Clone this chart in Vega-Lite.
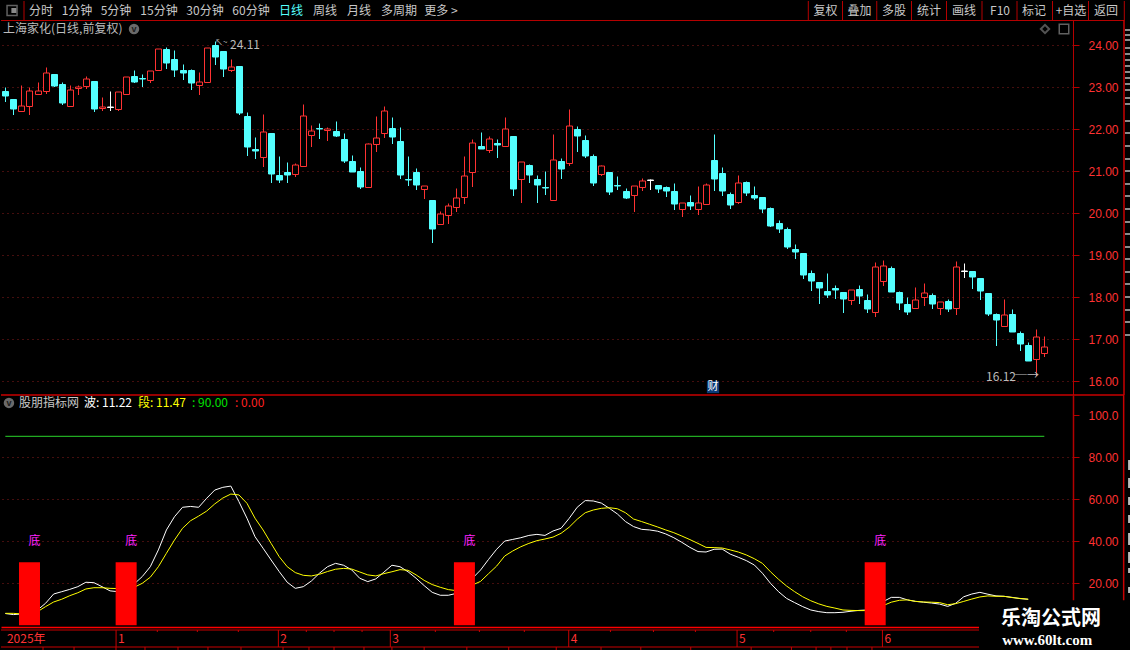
{
  "$schema": "https://vega.github.io/schema/vega-lite/v6.json",
  "background": "#000000",
  "padding": 0,
  "spacing": 0,
  "bounds": "flush",
  "resolve": {"scale": {"color": "independent", "fill": "independent", "stroke": "independent"}},
  "config": {
    "view": {"stroke": null},
    "text": {"font": "Noto Sans CJK SC", "fontSize": 12},
    "axis": {"title": null, "grid": false, "labels": false, "ticks": false}
  },
  "datasets": {
    "candles": [
      {"i":0,"o":22.91,"h":23.0,"l":22.66,"c":22.78},{"i":1,"o":22.72,"h":22.72,"l":22.34,"c":22.49},{"i":2,"o":22.43,"h":23.06,"l":22.43,"c":22.55},{"i":3,"o":22.55,"h":23.0,"l":22.33,"c":22.9},{"i":4,"o":22.85,"h":23.12,"l":22.81,"c":22.9},
      {"i":5,"o":22.9,"h":23.48,"l":22.85,"c":23.33},{"i":6,"o":23.32,"h":23.32,"l":23.01,"c":23.04},{"i":7,"o":23.08,"h":23.13,"l":22.58,"c":22.63},{"i":8,"o":22.55,"h":23.06,"l":22.55,"c":22.93},{"i":9,"o":22.98,"h":23.05,"l":22.82,"c":23.01},
      {"i":10,"o":23.02,"h":23.27,"l":22.96,"c":23.19},{"i":11,"o":23.15,"h":23.15,"l":22.42,"c":22.48},{"i":12,"o":22.5,"h":22.76,"l":22.44,"c":22.52},{"i":13,"o":22.52,"h":22.91,"l":22.44,"c":22.52},{"i":14,"o":22.49,"h":22.88,"l":22.44,"c":22.88},
      {"i":15,"o":22.83,"h":23.24,"l":22.83,"c":23.24},{"i":16,"o":23.27,"h":23.41,"l":23.09,"c":23.13},{"i":17,"o":23.21,"h":23.32,"l":23.01,"c":23.19},{"i":18,"o":23.18,"h":23.38,"l":23.09,"c":23.38},{"i":19,"o":23.4,"h":23.9,"l":23.4,"c":23.9},
      {"i":20,"o":23.9,"h":23.95,"l":23.44,"c":23.59},{"i":21,"o":23.67,"h":23.89,"l":23.25,"c":23.42},{"i":22,"o":23.42,"h":23.56,"l":23.18,"c":23.33},{"i":23,"o":23.41,"h":23.44,"l":22.94,"c":23.11},{"i":24,"o":23.06,"h":23.37,"l":22.82,"c":23.12},
      {"i":25,"o":23.13,"h":23.93,"l":23.1,"c":23.93},{"i":26,"o":24.01,"h":24.11,"l":23.53,"c":23.72},{"i":27,"o":23.87,"h":23.87,"l":23.25,"c":23.44},{"i":28,"o":23.42,"h":23.67,"l":23.37,"c":23.48},{"i":29,"o":23.51,"h":23.51,"l":22.33,"c":22.39},
      {"i":30,"o":22.32,"h":22.4,"l":21.37,"c":21.58},{"i":31,"o":21.53,"h":21.82,"l":21.29,"c":21.49},{"i":32,"o":21.33,"h":22.37,"l":21.1,"c":21.93},{"i":33,"o":21.91,"h":21.91,"l":20.72,"c":20.94},{"i":34,"o":20.91,"h":21.37,"l":20.72,"c":20.79},
      {"i":35,"o":20.98,"h":21.21,"l":20.72,"c":20.91},{"i":36,"o":20.94,"h":21.19,"l":20.85,"c":21.14},{"i":37,"o":21.13,"h":22.6,"l":21.12,"c":22.31},{"i":38,"o":21.87,"h":22.1,"l":21.58,"c":21.95},{"i":39,"o":22.02,"h":22.15,"l":21.77,"c":22.0},
      {"i":40,"o":21.98,"h":22.06,"l":21.72,"c":22.01},{"i":41,"o":21.96,"h":22.2,"l":21.82,"c":21.84},{"i":42,"o":21.77,"h":21.9,"l":21.2,"c":21.25},{"i":43,"o":21.25,"h":21.39,"l":20.97,"c":20.98},{"i":44,"o":21.01,"h":21.1,"l":20.58,"c":20.63},
      {"i":45,"o":20.63,"h":21.67,"l":20.63,"c":21.64},{"i":46,"o":21.64,"h":22.32,"l":21.46,"c":21.79},{"i":47,"o":21.9,"h":22.56,"l":21.8,"c":22.43},{"i":48,"o":22.03,"h":22.29,"l":21.65,"c":21.82},{"i":49,"o":21.72,"h":22.05,"l":20.81,"c":20.91},
      {"i":50,"o":20.81,"h":21.36,"l":20.65,"c":20.79},{"i":51,"o":20.98,"h":21.07,"l":20.55,"c":20.67},{"i":52,"o":20.57,"h":20.65,"l":20.33,"c":20.64},{"i":53,"o":20.31,"h":20.31,"l":19.28,"c":19.62},{"i":54,"o":19.75,"h":20.05,"l":19.75,"c":19.99},
      {"i":55,"o":19.96,"h":20.25,"l":19.74,"c":20.18},{"i":56,"o":20.14,"h":20.61,"l":20.02,"c":20.37},{"i":57,"o":20.39,"h":21.36,"l":20.22,"c":20.88},{"i":58,"o":20.99,"h":21.76,"l":20.62,"c":21.67},{"i":59,"o":21.6,"h":21.94,"l":21.53,"c":21.53},
      {"i":60,"o":21.51,"h":21.83,"l":21.43,"c":21.76},{"i":61,"o":21.66,"h":21.77,"l":21.31,"c":21.63},{"i":62,"o":21.59,"h":22.29,"l":21.59,"c":22.0},{"i":63,"o":21.84,"h":21.84,"l":20.41,"c":20.57},{"i":64,"o":20.82,"h":21.21,"l":20.24,"c":21.21},
      {"i":65,"o":21.15,"h":21.17,"l":20.72,"c":20.91},{"i":66,"o":20.81,"h":20.91,"l":20.24,"c":20.67},{"i":67,"o":20.62,"h":21.0,"l":20.43,"c":20.6},{"i":68,"o":20.32,"h":21.89,"l":20.32,"c":21.26},{"i":69,"o":21.24,"h":21.31,"l":20.81,"c":21.05},
      {"i":70,"o":21.2,"h":22.49,"l":21.12,"c":22.07},{"i":71,"o":22.01,"h":22.08,"l":21.46,"c":21.84},{"i":72,"o":21.75,"h":21.86,"l":21.31,"c":21.36},{"i":73,"o":21.36,"h":21.41,"l":20.65,"c":20.72},{"i":74,"o":20.94,"h":21.15,"l":20.88,"c":21.12},
      {"i":75,"o":20.98,"h":20.98,"l":20.43,"c":20.5},{"i":76,"o":20.67,"h":20.88,"l":20.55,"c":20.65},{"i":77,"o":20.53,"h":20.6,"l":20.33,"c":20.36},{"i":78,"o":20.44,"h":20.64,"l":20.02,"c":20.64},{"i":79,"o":20.63,"h":20.84,"l":20.53,"c":20.76},
      {"i":80,"o":20.78,"h":20.81,"l":20.55,"c":20.78},{"i":81,"o":20.67,"h":20.67,"l":20.48,"c":20.57},{"i":82,"o":20.62,"h":20.65,"l":20.38,"c":20.53},{"i":83,"o":20.53,"h":20.72,"l":20.07,"c":20.22},{"i":84,"o":20.1,"h":20.25,"l":19.9,"c":20.25},
      {"i":85,"o":20.26,"h":20.43,"l":20.07,"c":20.17},{"i":86,"o":20.1,"h":20.65,"l":19.95,"c":20.23},{"i":87,"o":20.22,"h":20.72,"l":20.22,"c":20.66},{"i":88,"o":21.27,"h":21.89,"l":20.53,"c":20.81},{"i":89,"o":20.96,"h":21.1,"l":20.41,"c":20.53},
      {"i":90,"o":20.45,"h":20.5,"l":20.1,"c":20.19},{"i":91,"o":20.27,"h":20.91,"l":20.22,"c":20.73},{"i":92,"o":20.74,"h":20.76,"l":20.41,"c":20.48},{"i":93,"o":20.43,"h":20.65,"l":20.31,"c":20.36},{"i":94,"o":20.38,"h":20.39,"l":20.0,"c":20.1},
      {"i":95,"o":20.12,"h":20.14,"l":19.67,"c":19.69},{"i":96,"o":19.76,"h":19.84,"l":19.53,"c":19.62},{"i":97,"o":19.62,"h":19.67,"l":19.14,"c":19.19},{"i":98,"o":19.14,"h":19.26,"l":18.91,"c":19.07},{"i":99,"o":19.05,"h":19.05,"l":18.43,"c":18.52},
      {"i":100,"o":18.57,"h":18.64,"l":18.14,"c":18.38},{"i":101,"o":18.36,"h":18.36,"l":17.83,"c":18.21},{"i":102,"o":18.14,"h":18.57,"l":17.97,"c":18.05},{"i":103,"o":18.21,"h":18.28,"l":17.95,"c":18.17},{"i":104,"o":18.12,"h":18.12,"l":17.62,"c":17.95},
      {"i":105,"o":17.93,"h":18.17,"l":17.81,"c":18.16},{"i":106,"o":18.19,"h":18.28,"l":17.83,"c":18.02},{"i":107,"o":17.93,"h":18.07,"l":17.62,"c":17.71},{"i":108,"o":17.65,"h":18.83,"l":17.52,"c":18.71},{"i":109,"o":18.39,"h":18.88,"l":18.26,"c":18.73},
      {"i":110,"o":18.69,"h":18.74,"l":18.12,"c":18.12},{"i":111,"o":18.12,"h":18.14,"l":17.69,"c":17.86},{"i":112,"o":17.83,"h":18.0,"l":17.57,"c":17.64},{"i":113,"o":17.74,"h":18.24,"l":17.74,"c":17.94},{"i":114,"o":18.01,"h":18.33,"l":17.78,"c":18.09},
      {"i":115,"o":18.05,"h":18.09,"l":17.71,"c":17.83},{"i":116,"o":17.74,"h":17.89,"l":17.57,"c":17.89},{"i":117,"o":17.9,"h":17.95,"l":17.64,"c":17.71},{"i":118,"o":17.74,"h":18.86,"l":17.57,"c":18.71},{"i":119,"o":18.61,"h":18.81,"l":18.45,"c":18.61},
      {"i":120,"o":18.62,"h":18.62,"l":18.19,"c":18.48},{"i":121,"o":18.45,"h":18.45,"l":17.93,"c":18.14},{"i":122,"o":18.09,"h":18.09,"l":17.54,"c":17.59},{"i":123,"o":17.59,"h":17.62,"l":16.83,"c":17.45},{"i":124,"o":17.31,"h":17.95,"l":17.28,"c":17.58},
      {"i":125,"o":17.59,"h":17.71,"l":17.16,"c":17.16},{"i":126,"o":17.14,"h":17.19,"l":16.71,"c":16.88},{"i":127,"o":16.85,"h":16.92,"l":16.47,"c":16.47},{"i":128,"o":16.53,"h":17.23,"l":16.12,"c":17.04},{"i":129,"o":16.67,"h":17.07,"l":16.57,"c":16.82}
    ],
    "wave": [
      {"i":0,"bo":5.6,"duan":5.7},{"i":1,"bo":5.1,"duan":5.7},{"i":2,"bo":5.4,"duan":5.4},{"i":3,"bo":6.5,"duan":5.4},{"i":4,"bo":7.3,"duan":6.5},{"i":5,"bo":10.5,"duan":8.9},{"i":6,"bo":14.9,"duan":11.1},{"i":7,"bo":16.0,"duan":12.4},{"i":8,"bo":17.1,"duan":14.1},{"i":9,"bo":18.4,"duan":15.5},
      {"i":10,"bo":20.5,"duan":17.3},{"i":11,"bo":20.3,"duan":17.9},{"i":12,"bo":18.4,"duan":17.9},{"i":13,"bo":16.4,"duan":17.6},{"i":14,"bo":16.0,"duan":17.5},{"i":15,"bo":17.6,"duan":17.3},{"i":16,"bo":19.7,"duan":18.1},{"i":17,"bo":23.2,"duan":20.0},{"i":18,"bo":27.9,"duan":22.9},{"i":19,"bo":35.9,"duan":27.9},
      {"i":20,"bo":45.4,"duan":34.3},{"i":21,"bo":51.7,"duan":40.6},{"i":22,"bo":56.2,"duan":46.2},{"i":23,"bo":56.6,"duan":49.8},{"i":24,"bo":56.2,"duan":52.0},{"i":25,"bo":60.5,"duan":54.4},{"i":26,"bo":64.4,"duan":57.8},{"i":27,"bo":65.7,"duan":60.6},{"i":28,"bo":66.3,"duan":62.5},{"i":29,"bo":58.9,"duan":62.1},
      {"i":30,"bo":51.0,"duan":58.1},{"i":31,"bo":42.2,"duan":51.0},{"i":32,"bo":36.7,"duan":45.4},{"i":33,"bo":31.1,"duan":39.0},{"i":34,"bo":25.6,"duan":32.7},{"i":35,"bo":20.5,"duan":27.9},{"i":36,"bo":17.6,"duan":25.1},{"i":37,"bo":18.4,"duan":23.8},{"i":38,"bo":21.1,"duan":23.5},{"i":39,"bo":24.8,"duan":24.3},
      {"i":40,"bo":27.9,"duan":25.6},{"i":41,"bo":29.5,"duan":26.7},{"i":42,"bo":28.6,"duan":27.1},{"i":43,"bo":26.4,"duan":26.8},{"i":44,"bo":22.4,"duan":25.4},{"i":45,"bo":20.8,"duan":24.0},{"i":46,"bo":22.1,"duan":23.5},{"i":47,"bo":25.3,"duan":24.6},{"i":48,"bo":28.6,"duan":25.5},{"i":49,"bo":27.9,"duan":26.5},
      {"i":50,"bo":25.5,"duan":26.2},{"i":51,"bo":22.4,"duan":24.0},{"i":52,"bo":18.9,"duan":21.4},{"i":53,"bo":15.7,"duan":19.4},{"i":54,"bo":14.3,"duan":18.1},{"i":55,"bo":14.3,"duan":17.0},{"i":56,"bo":15.2,"duan":16.5},{"i":57,"bo":18.4,"duan":17.1},{"i":58,"bo":22.4,"duan":19.2},{"i":59,"bo":26.3,"duan":20.9},
      {"i":60,"bo":31.4,"duan":24.6},{"i":61,"bo":36.2,"duan":28.2},{"i":62,"bo":40.1,"duan":33.0},{"i":63,"bo":40.9,"duan":35.4},{"i":64,"bo":41.7,"duan":37.4},{"i":65,"bo":42.8,"duan":39.0},{"i":66,"bo":43.3,"duan":40.3},{"i":67,"bo":42.8,"duan":41.1},{"i":68,"bo":44.9,"duan":42.0},{"i":69,"bo":46.2,"duan":43.8},
      {"i":70,"bo":50.9,"duan":46.7},{"i":71,"bo":56.2,"duan":50.5},{"i":72,"bo":59.4,"duan":53.6},{"i":73,"bo":59.2,"duan":54.9},{"i":74,"bo":58.2,"duan":55.7},{"i":75,"bo":55.7,"duan":56.0},{"i":76,"bo":53.0,"duan":55.5},{"i":77,"bo":49.4,"duan":53.6},{"i":78,"bo":47.0,"duan":50.6},{"i":79,"bo":45.7,"duan":49.4},
      {"i":80,"bo":45.4,"duan":48.1},{"i":81,"bo":44.8,"duan":46.8},{"i":82,"bo":43.5,"duan":45.4},{"i":83,"bo":41.7,"duan":44.1},{"i":84,"bo":39.5,"duan":42.5},{"i":85,"bo":37.1,"duan":40.8},{"i":86,"bo":35.1,"duan":39.0},{"i":87,"bo":34.9,"duan":37.1},{"i":88,"bo":36.2,"duan":37.0},{"i":89,"bo":36.3,"duan":36.8},
      {"i":90,"bo":33.9,"duan":35.9},{"i":91,"bo":32.4,"duan":34.9},{"i":92,"bo":30.8,"duan":33.5},{"i":93,"bo":28.7,"duan":31.7},{"i":94,"bo":24.8,"duan":29.5},{"i":95,"bo":20.0,"duan":25.5},{"i":96,"bo":16.0,"duan":21.9},{"i":97,"bo":12.8,"duan":18.7},{"i":98,"bo":10.8,"duan":16.0},{"i":99,"bo":8.9,"duan":13.6},
      {"i":100,"bo":7.3,"duan":11.7},{"i":101,"bo":6.5,"duan":10.2},{"i":102,"bo":6.0,"duan":9.0},{"i":103,"bo":6.0,"duan":8.2},{"i":104,"bo":6.2,"duan":7.3},{"i":105,"bo":6.7,"duan":7.1},{"i":106,"bo":7.1,"duan":7.0},{"i":107,"bo":7.3,"duan":7.0},{"i":108,"bo":8.9,"duan":8.1},{"i":109,"bo":11.3,"duan":9.4},
      {"i":110,"bo":13.3,"duan":11.0},{"i":111,"bo":13.3,"duan":11.9},{"i":112,"bo":12.1,"duan":12.1},{"i":113,"bo":11.4,"duan":11.4},{"i":114,"bo":11.0,"duan":11.1},{"i":115,"bo":10.6,"duan":11.0},{"i":116,"bo":10.1,"duan":10.8},{"i":117,"bo":9.0,"duan":9.8},{"i":118,"bo":10.5,"duan":10.3},{"i":119,"bo":13.6,"duan":11.4},
      {"i":120,"bo":14.9,"duan":12.5},{"i":121,"bo":15.7,"duan":13.5},{"i":122,"bo":14.8,"duan":14.0},{"i":123,"bo":14.0,"duan":13.8},{"i":124,"bo":13.8,"duan":13.8},{"i":125,"bo":13.3,"duan":13.2},{"i":126,"bo":12.7,"duan":12.8},{"i":127,"bo":12.4,"duan":12.4}
    ],
    "signals": [{"i":3,"v":30,"text":"底"},{"i":15,"v":30,"text":"底"},{"i":57,"v":30,"text":"底"},{"i":108,"v":30,"text":"底"}],
    "months": [{"i":-0.05,"text":"2025年"},{"i":13.75,"text":"1"},{"i":33.9,"text":"2"},{"i":47.8,"text":"3"},{"i":69.95,"text":"4"},{"i":90.85,"text":"5"},{"i":108.9,"text":"6"}],
    "weeks": [{"i":18.87},{"i":23.84},{"i":28.93},{"i":37.37},{"i":40.81},{"i":44.29},{"i":53.39},{"i":58.86},{"i":64.44},{"i":75.13},{"i":80.47},{"i":85.68},{"i":95.4},{"i":100.0},{"i":104.42}],
    "footTicks": [{"i":4.68},{"i":8.53},{"i":13.74},{"i":17.34},{"i":21.44},{"i":25.16},{"i":29.26},{"i":34.48},{"i":37.7},{"i":40.81},{"i":44.53},{"i":48.0},{"i":52.0},{"i":57.3},{"i":62.5},{"i":68.4},{"i":73.96},{"i":78.9},{"i":85.1},{"i":92.6},{"i":97.6},{"i":100.66},{"i":102.5},{"i":104.5},{"i":107.6}]
  },
  "vconcat": [
    {
      "width": 1130,
      "height": 19,
      "encoding": {
        "x": {
          "type": "quantitative",
          "axis": null,
          "scale": {
            "domain": [-3, -0.5, 0, 1, 2, 3, 4, 5, 6, 7, 8, 9, 10, 10.5, 11, 12, 13, 14, 15, 16, 17, 18, 19, 19.5, 20],
            "range": [0, 23, 40, 76, 115, 158, 204, 250, 290, 324, 358, 398, 440, 807.3, 824.5, 858.5, 893, 928, 963, 999, 1033, 1070, 1105, 1123.3, 1130]
          }
        }
      },
      "layer": [
        {
          "data": {"values": [{"sep":-0.5},{"sep":10.5},{"sep":11.5},{"sep":12.5},{"sep":13.5},{"sep":14.5},{"sep":15.5},{"sep":16.5},{"sep":17.5},{"sep":18.5},{"sep":19.5}]},
          "mark": {"type": "rule", "color": "#b40000", "strokeWidth": 1},
          "encoding": {"x": {"field": "sep"}}
        },
        {
          "data": {"values": [{"from":-3,"to":19.5,"row":0}]},
          "mark": {"type": "rule", "color": "#b40000", "strokeWidth": 1, "yOffset": 0.5},
          "encoding": {
            "x": {"field": "from"},
            "x2": {"field": "to"},
            "y": {"field": "row", "type": "quantitative", "scale": {"domain": [0, 1], "nice": false}, "axis": null}
          }
        },
        {
          "data": {"values": [{"order":-1.8}]},
          "mark": {"type": "point", "shape": "square", "filled": false, "stroke": "#8a8a8a", "strokeWidth": 1.5, "size": 100},
          "encoding": {"x": {"field": "order"}}
        },
        {
          "data": {"values": [{"order":-1.6}]},
          "mark": {"type": "point", "shape": "square", "filled": true, "color": "#8a8a8a", "opacity": 1, "size": 25},
          "encoding": {"x": {"field": "order"}}
        },
        {
          "data": {
            "values": [
              {"order":0,"text":"分时"},{"order":1,"text":"1分钟"},{"order":2,"text":"5分钟"},{"order":3,"text":"15分钟"},{"order":4,"text":"30分钟"},{"order":5,"text":"60分钟"},{"order":6,"text":"日线"},{"order":7,"text":"周线"},{"order":8,"text":"月线"},{"order":9,"text":"多周期"},{"order":10,"text":"更多 >"},
              {"order":11,"text":"复权"},{"order":12,"text":"叠加"},{"order":13,"text":"多股"},{"order":14,"text":"统计"},{"order":15,"text":"画线"},{"order":16,"text":"F10"},{"order":17,"text":"标记"},{"order":18,"text":"+自选"},{"order":19,"text":"返回"}
            ]
          },
          "mark": {"type": "text", "align": "center", "baseline": "middle"},
          "encoding": {
            "x": {"field": "order"},
            "text": {"field": "text"},
            "color": {"condition": {"test": "datum.text === '日线'", "value": "#55ffff"}, "value": "#c8c8c8"}
          }
        }
      ]
    },
    {
      "width": 1072,
      "height": 375,
      "encoding": {
        "x": {
          "type": "quantitative",
          "scale": {"domain": [-0.5376, 132.56], "nice": false, "zero": false, "padding": 0, "round": true},
          "axis": null
        },
        "y": {
          "type": "quantitative",
          "scale": {"domain": [15.666, 24.603], "nice": false, "zero": false, "round": true}
        }
      },
      "layer": [
        {
          "data": {"name": "candles"},
          "transform": [{"calculate": "datum.c > datum.o ? 'up' : (datum.c < datum.o ? 'down' : 'flat')", "as": "dir"}],
          "layer": [
            {
              "mark": {"type": "rule", "strokeWidth": 1, "xOffset": 0.5, "yOffset": 0.5},
              "encoding": {
                "x": {"field": "i"},
                "y": {
                  "field": "h",
                  "axis": {
                    "orient": "right",
                    "values": [16, 16.5, 17, 17.5, 18, 18.5, 19, 19.5, 20, 20.5, 21, 21.5, 22, 22.5, 23, 23.5, 24, 24.5],
                    "domain": true,
                    "domainColor": "#b40000",
                    "domainWidth": 1,
                    "ticks": true,
                    "tickColor": "#b40000",
                    "tickSize": {"condition": {"test": "datum.value % 1 === 0", "value": 6}, "value": 3},
                    "labels": true,
                    "labelExpr": "datum.value % 1 === 0 ? format(datum.value, '.2f') : ''",
                    "labelColor": "#ff3232",
                    "labelFont": "Liberation Sans",
                    "labelFontSize": 12,
                    "labelPadding": 9,
                    "labelBound": false,
                    "labelOverlap": false,
                    "grid": true,
                    "gridColor": "#8a1c1c",
                    "gridDash": [1, 4],
                    "gridOpacity": {"condition": {"test": "datum.value % 1 === 0", "value": 1}, "value": 0}
                  }
                },
                "y2": {"field": "l"},
                "color": {
                  "field": "dir",
                  "type": "nominal",
                  "scale": {"domain": ["up", "down", "flat"], "range": ["#ff3232", "#54ffff", "#ffffff"]},
                  "legend": null
                }
              }
            },
            {
              "mark": {"type": "bar", "orient": "vertical", "size": 6, "strokeWidth": 1, "xOffset": 0.5, "yOffset": 0.5},
              "encoding": {
                "x": {"field": "i"},
                "y": {"field": "o", "stack": null},
                "y2": {"field": "c"},
                "fill": {
                  "field": "dir",
                  "type": "nominal",
                  "scale": {"domain": ["up", "down", "flat"], "range": ["#000000", "#54ffff", "#ffffff"]},
                  "legend": null
                },
                "stroke": {
                  "field": "dir",
                  "type": "nominal",
                  "scale": {"domain": ["up", "down", "flat"], "range": ["#ff3232", "#54ffff", "#ffffff"]},
                  "legend": null
                }
              }
            }
          ]
        },
        {
          "data": {
            "values": [
              {"i":-0.29,"p":24.39,"text":"上海家化(日线,前复权)"},
              {"i":27.9,"p":24.0,"text":"24.11"},
              {"i":121.76,"p":16.095,"text":"16.12"},
              {"i":125.3,"p":16.12,"text":"─→"}
            ]
          },
          "mark": {"type": "text", "align": "left", "baseline": "middle", "color": "#bcbcbc"},
          "encoding": {"x": {"field": "i"}, "y": {"field": "p"}, "text": {"field": "text"}}
        },
        {
          "data": {"values": [{"i":26,"p":24.05,"text":"↖~"}]},
          "mark": {"type": "text", "align": "left", "baseline": "middle", "fontSize": 8, "color": "#bcbcbc"},
          "encoding": {"x": {"field": "i"}, "y": {"field": "p"}, "text": {"field": "text"}}
        },
        {
          "data": {"values": [{"i":15.98,"p":24.39}]},
          "mark": {"type": "point", "shape": "circle", "filled": true, "color": "#6a6a6a", "opacity": 1, "size": 110},
          "encoding": {"x": {"field": "i"}, "y": {"field": "p"}}
        },
        {
          "data": {"values": [{"i":15.98,"p":24.39,"text":"v"}]},
          "mark": {"type": "text", "align": "center", "baseline": "middle", "font": "Liberation Sans", "fontSize": 9, "fontWeight": "bold", "color": "#1c1c1c"},
          "encoding": {"x": {"field": "i"}, "y": {"field": "p"}, "text": {"field": "text"}}
        },
        {
          "data": {"values": [{"i":129.1,"p":24.39}]},
          "mark": {"type": "point", "shape": "diamond", "filled": false, "stroke": "#777777", "size": 70},
          "encoding": {"x": {"field": "i"}, "y": {"field": "p"}}
        },
        {
          "data": {"values": [{"i":131.45,"p":24.39}]},
          "mark": {"type": "point", "shape": "square", "filled": false, "stroke": "#8a8a8a", "strokeWidth": 1.5, "size": 90},
          "encoding": {"x": {"field": "i"}, "y": {"field": "p"}}
        },
        {
          "data": {"values": [{"i":87.9,"p":15.86}]},
          "mark": {"type": "point", "shape": "square", "filled": true, "color": "#0b3a78", "opacity": 1, "size": 150},
          "encoding": {"x": {"field": "i"}, "y": {"field": "p"}}
        },
        {
          "data": {"values": [{"i":87.9,"p":15.86,"text":"财"}]},
          "mark": {"type": "text", "align": "center", "baseline": "middle", "fontSize": 11, "color": "#ffffff"},
          "encoding": {"x": {"field": "i"}, "y": {"field": "p"}, "text": {"field": "text"}}
        },
        {
          "data": {"values": [{"i":138.85,"top":24.603,"bottom":15.666}]},
          "mark": {"type": "rule", "color": "#c80000", "strokeWidth": 1.5},
          "encoding": {"x": {"field": "i"}, "y": {"field": "top"}, "y2": {"field": "bottom"}}
        },
        {
          "data": {"values": [{"from":-0.5376,"to":138.85,"p":15.67}]},
          "mark": {"type": "rule", "color": "#c80000", "strokeWidth": 1.5},
          "encoding": {"x": {"field": "from"}, "x2": {"field": "to"}, "y": {"field": "p"}}
        },
        {
          "data": {
            "values": [
              {"p":24.36},{"p":24.24},{"p":24.13},{"p":23.94},{"p":23.79},{"p":23.65},{"p":23.51},{"p":23.36},{"p":23.22},{"p":23.08},{"p":22.94},{"p":22.75},{"p":22.6},
              {"p":22.2},{"p":21.9},{"p":21.6},{"p":21.3},{"p":21.0},{"p":20.7},{"p":20.4},{"p":20.1},{"p":19.8},{"p":19.5},{"p":19.2},{"p":18.9},{"p":18.6},{"p":18.3},{"p":18.0},{"p":17.7},{"p":17.4},{"p":17.1}
            ]
          },
          "mark": {"type": "tick", "orient": "horizontal", "color": "#c8c8c8", "size": 6, "thickness": 2},
          "encoding": {"x": {"datum": 139.4}, "y": {"field": "p"}}
        }
      ]
    },
    {
      "width": 1072,
      "height": 232,
      "encoding": {
        "x": {
          "type": "quantitative",
          "scale": {"domain": [-0.5376, 132.56], "nice": false, "zero": false, "padding": 0}
        },
        "y": {
          "type": "quantitative",
          "scale": {"domain": [-0.81, 109.67], "nice": false, "zero": false}
        }
      },
      "layer": [
        {
          "data": {"name": "wave"},
          "mark": {"type": "line", "color": "#ffffff", "strokeWidth": 1},
          "encoding": {
            "x": {"field": "i", "axis": {"orient": "bottom", "domainColor": "#ff0000", "domainWidth": 1.5}},
            "y": {
              "field": "bo",
              "axis": {
                "orient": "right",
                "values": [20, 30, 40, 50, 60, 70, 80, 90, 100],
                "domain": true,
                "domainColor": "#b40000",
                "domainWidth": 1.5,
                "ticks": true,
                "tickColor": "#b40000",
                "tickSize": {"condition": {"test": "datum.value % 20 === 0", "value": 6}, "value": 3},
                "labels": true,
                "labelExpr": "datum.value === 100 ? '100.0' : (datum.value % 20 === 0 ? format(datum.value, '.2f') : '')",
                "labelColor": "#ff3232",
                "labelFont": "Liberation Sans",
                "labelFontSize": 12,
                "labelPadding": 9,
                "labelBound": false,
                "labelOverlap": false,
                "grid": true,
                "gridColor": "#8a1c1c",
                "gridDash": [1, 4],
                "gridOpacity": {"condition": {"test": "datum.value % 20 === 0 && datum.value < 100", "value": 1}, "value": 0}
              }
            }
          }
        },
        {
          "data": {"name": "wave"},
          "mark": {"type": "line", "color": "#ffff00", "strokeWidth": 1},
          "encoding": {"x": {"field": "i"}, "y": {"field": "duan"}}
        },
        {
          "data": {"values": [{"from":0,"to":129,"v":90}]},
          "mark": {"type": "rule", "color": "#2ad42a", "strokeWidth": 1},
          "encoding": {"x": {"field": "from"}, "x2": {"field": "to"}, "y": {"field": "v"}}
        },
        {
          "data": {"name": "signals"},
          "mark": {"type": "bar", "orient": "vertical", "size": 21, "color": "#ff0000"},
          "encoding": {"x": {"field": "i"}, "y": {"field": "v", "stack": null}}
        },
        {
          "data": {"name": "signals"},
          "mark": {"type": "text", "align": "center", "baseline": "middle", "dx": 5, "color": "#ff22ff"},
          "encoding": {"x": {"field": "i"}, "y": {"datum": 40}, "text": {"field": "text"}}
        },
        {
          "data": {
            "values": [
              {"i":1.7,"v":105.9,"text":"股朋指标网","series":"name"},
              {"i":9.77,"v":105.9,"text":"波: 11.22","series":"bo"},
              {"i":16.47,"v":105.9,"text":"段: 11.47","series":"duan"},
              {"i":23.18,"v":105.9,"text":": 90.00","series":"high"},
              {"i":28.52,"v":105.9,"text":": 0.00","series":"low"}
            ]
          },
          "mark": {"type": "text", "align": "left", "baseline": "middle"},
          "encoding": {
            "x": {"field": "i"},
            "y": {"field": "v"},
            "text": {"field": "text"},
            "color": {
              "field": "series",
              "type": "nominal",
              "scale": {"domain": ["name", "bo", "duan", "high", "low"], "range": ["#c8c8c8", "#ffffff", "#ffff00", "#00e000", "#ff2020"]},
              "legend": null
            }
          }
        },
        {
          "data": {"values": [{"i":0.45,"v":105.9}]},
          "mark": {"type": "point", "shape": "circle", "filled": true, "color": "#6a6a6a", "opacity": 1, "size": 110},
          "encoding": {"x": {"field": "i"}, "y": {"field": "v"}}
        },
        {
          "data": {"values": [{"i":0.45,"v":105.9,"text":"v"}]},
          "mark": {"type": "text", "align": "center", "baseline": "middle", "font": "Liberation Sans", "fontSize": 9, "fontWeight": "bold", "color": "#1c1c1c"},
          "encoding": {"x": {"field": "i"}, "y": {"field": "v"}, "text": {"field": "text"}}
        },
        {
          "data": {"values": [{"i":138.85,"top":109.67,"bottom":-0.81}]},
          "mark": {"type": "rule", "color": "#c80000", "strokeWidth": 1.5},
          "encoding": {"x": {"field": "i"}, "y": {"field": "top"}, "y2": {"field": "bottom"}}
        },
        {
          "data": {
            "values": [
              {"from":139.4,"to":139.76,"v":78.7,"v2":74.0},{"from":139.4,"to":139.76,"v":70.1,"v2":65.4},{"from":139.4,"to":139.76,"v":61.1,"v2":57.3},{"from":139.4,"to":139.76,"v":52.5,"v2":48.7},
              {"from":139.4,"to":139.76,"v":44.0,"v2":38.2},{"from":139.4,"to":139.76,"v":34.9,"v2":29.7},{"from":139.4,"to":139.76,"v":27.3,"v2":24.9},{"from":139.4,"to":139.76,"v":18.2,"v2":15.4}
            ]
          },
          "mark": {"type": "rect", "color": "#bcbcbc"},
          "encoding": {"x": {"field": "from"}, "x2": {"field": "to"}, "y": {"field": "v"}, "y2": {"field": "v2"}}
        },
        {
          "data": {"values": [{"from":120.89,"to":139.76,"v":11.9,"v2":-11.8}]},
          "mark": {"type": "rect", "color": "#000000"},
          "encoding": {"x": {"field": "from"}, "x2": {"field": "to"}, "y": {"field": "v"}, "y2": {"field": "v2"}}
        },
        {
          "data": {"values": [{"i":129.83,"v":3.0,"text":"乐淘公式网"}]},
          "mark": {"type": "text", "align": "center", "baseline": "middle", "font": "Noto Sans CJK SC", "fontSize": 20, "fontWeight": "bold", "color": "#ffffff"},
          "encoding": {"x": {"field": "i"}, "y": {"field": "v"}, "text": {"field": "text"}}
        },
        {
          "data": {"values": [{"i":129.35,"v":-7.0,"text":"www.60lt.com"}]},
          "mark": {"type": "text", "align": "center", "baseline": "middle", "font": "Liberation Serif", "fontSize": 15, "fontWeight": "bold", "color": "#ffffff"},
          "encoding": {"x": {"field": "i"}, "y": {"field": "v"}, "text": {"field": "text"}}
        }
      ]
    },
    {
      "width": 978,
      "height": 23,
      "encoding": {
        "x": {
          "type": "quantitative",
          "scale": {"domain": [-0.5376, 120.89], "nice": false, "zero": false},
          "axis": null
        },
        "y": {
          "type": "quantitative",
          "scale": {"domain": [23, 0], "nice": false, "zero": false},
          "axis": null
        }
      },
      "layer": [
        {
          "data": {"values": [{"from":-0.5376,"to":120.89,"row":3},{"from":-0.5376,"to":120.89,"row":20}]},
          "mark": {"type": "rule", "color": "#c80000", "strokeWidth": 1},
          "encoding": {"x": {"field": "from"}, "x2": {"field": "to"}, "y": {"field": "row"}}
        },
        {
          "data": {"name": "months"},
          "transform": [{"filter": "datum.i > 0"}],
          "mark": {"type": "rule", "color": "#c80000", "strokeWidth": 1},
          "encoding": {"x": {"field": "i"}, "y": {"datum": 3}, "y2": {"datum": 20}}
        },
        {
          "data": {"name": "weeks"},
          "mark": {"type": "rule", "color": "#c80000", "strokeWidth": 1},
          "encoding": {"x": {"field": "i"}, "y": {"datum": 3}, "y2": {"datum": 5}}
        },
        {
          "data": {"name": "footTicks"},
          "mark": {"type": "rule", "color": "#c80000", "strokeWidth": 1},
          "encoding": {"x": {"field": "i"}, "y": {"datum": 20}, "y2": {"datum": 23}}
        },
        {
          "data": {"name": "months"},
          "mark": {"type": "text", "align": "left", "baseline": "middle", "dx": 2, "color": "#ff3232", "font": "Noto Sans CJK SC"},
          "encoding": {"x": {"field": "i"}, "y": {"datum": 12}, "text": {"field": "text"}}
        }
      ]
    }
  ]
}
